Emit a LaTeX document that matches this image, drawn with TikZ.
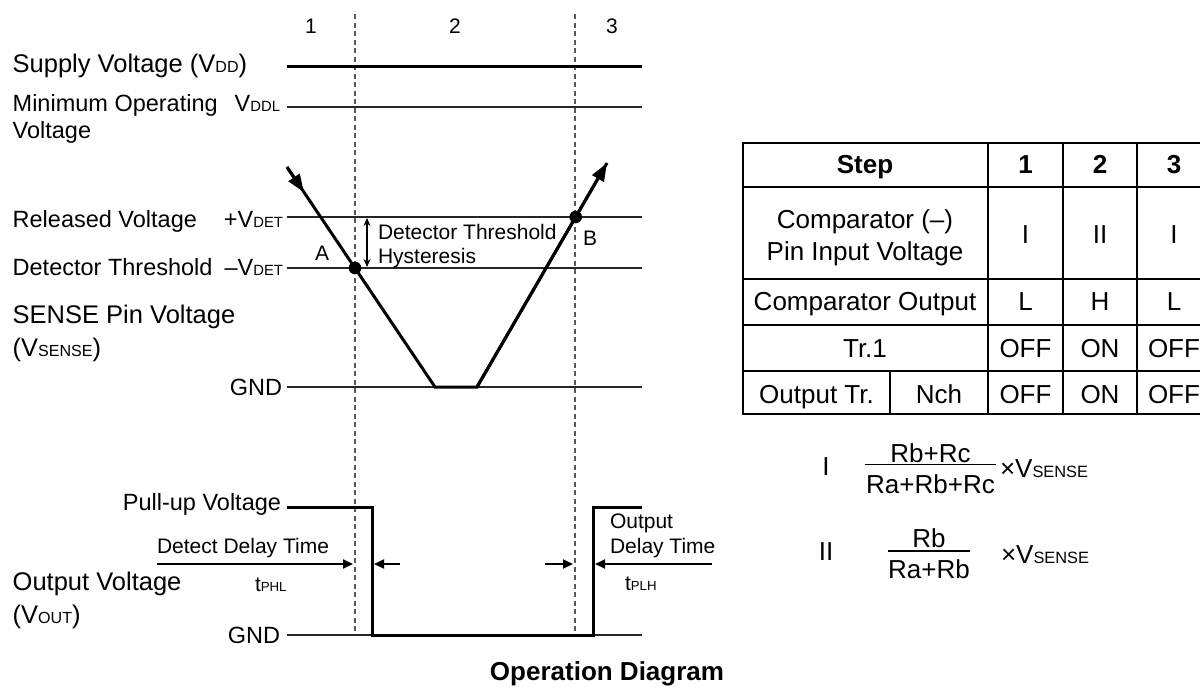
\documentclass[tikz,border=0pt]{standalone}
\usepackage{fontspec}
\setmainfont{Liberation Sans}
\usetikzlibrary{arrows.meta}
\makeatletter
\newcommand\sm[1]{{\fontsize{\fpeval{0.63*\f@size}}{1}\selectfont #1}}
\makeatother
\newcommand\fbig{\fontsize{25.5}{30}\selectfont}
\newcommand\fmed{\fontsize{23.5}{28}\selectfont}
\newcommand\fsml{\fontsize{21}{25}\selectfont}
\newcommand\ftbl{\fontsize{26}{30}\selectfont}
\begin{document}
\begin{tikzpicture}[x=1pt,y=-1pt,
  every node/.style={inner sep=0pt, outer sep=0pt},
  big/.style={font=\fbig},
  med/.style={font=\fmed},
  sml/.style={font=\fsml},
  tbl/.style={font=\ftbl},
  thinln/.style={line width=1.3pt, draw=black!85},
  wave/.style={line width=3pt},
  vdash/.style={line width=1.1pt, draw=black!65, dash pattern=on 5pt off 3.5pt},
  gridln/.style={line width=1.8pt},
  dly/.style={line width=2pt, -{Triangle[length=10pt,width=9pt]}},
  bigtip/.style={-{Triangle[length=18pt,width=13pt]}},
  hyst/.style={line width=1.4pt, {Stealth[length=8pt,width=7pt]}-{Stealth[length=8pt,width=7pt]}},
]
\fill[white] (0,0) rectangle (1200,686);
\useasboundingbox (0,0) rectangle (1200,686);

% step numbers
\node[sml] (n1) at (311,26) {1};
\node[sml] (n2) at (455,26) {2};
\node[sml] (n3) at (612,26) {3};

% dashed step borders
\coordinate (dAt) at (355,14);  \coordinate (dAb) at (355,634);
\coordinate (dBt) at (575,14);  \coordinate (dBb) at (575,634);
\draw[vdash] (dAt) -- (dAb);
\draw[vdash] (dBt) -- (dBb);

% supply voltage
\node[big, anchor=base west] (vddlbl) at (12.7,72) {Supply Voltage (V\sm{DD})};
\coordinate (vddL) at (287,66.7); \coordinate (vddR) at (642,66.7);
\draw[wave] (vddL) -- (vddR);

% minimum operating voltage
\node[med, anchor=base west] (minlbl) at (12.7,111) {Minimum Operating};
\node[med, anchor=base west] (minlbl2) at (12.7,138) {Voltage};
\node[med, anchor=base east] (vddl) at (280,111) {V\sm{DDL}};
\coordinate (vddlL) at (287,107); \coordinate (vddlR) at (642,107);
\draw[thinln] (vddlL) -- (vddlR);

% released / detector levels
\node[med, anchor=base west] (rellbl) at (12.7,227) {Released Voltage};
\node[med, anchor=base east] (pvdet) at (283,227) {+V\sm{DET}};
\coordinate (relL) at (287,217); \coordinate (relR) at (642,217);
\draw[thinln] (relL) -- (relR);

\node[med, anchor=base west] (detlbl) at (12.7,275) {Detector Threshold};
\node[med, anchor=base east] (mvdet) at (283,275) {–V\sm{DET}};
\coordinate (detL) at (287,268); \coordinate (detR) at (642,268);
\draw[thinln] (detL) -- (detR);

\node[big, anchor=base west] (senselbl) at (12.7,323) {SENSE Pin Voltage};
\node[big, anchor=base west] (senselbl2) at (12.7,356) {(V\sm{SENSE})};

\node[med, anchor=base east] (gnd1) at (282,395) {GND};
\coordinate (gndL) at (287,387); \coordinate (gndR) at (642,387);
\draw[thinln] (gndL) -- (gndR);

% sense waveform
\coordinate (s0) at (287,167);
\coordinate (sa) at (304,192.3);
\coordinate (s1) at (435,387);
\coordinate (s2) at (477,387);
\coordinate (s3) at (607,163);
\draw[wave] (s0) -- (s1) -- (s2) -- (s3);
\draw[wave, bigtip] (s0) -- (sa);
\draw[wave, bigtip] (s2) -- (s3);

\coordinate (pA) at (355,268);
\coordinate (pB) at (575.7,217);
\fill (pA) circle (6.3);
\fill (pB) circle (6.3);
\node[sml] (lA) at (322,253) {A};
\node[sml] (lB) at (590,238) {B};

% hysteresis
\coordinate (hT) at (367,218); \coordinate (hB) at (367,267);
\draw[hyst] (hT) -- (hB);
\node[sml, anchor=base west] (hy1) at (378,239) {Detector Threshold};
\node[sml, anchor=base west] (hy2) at (378,263) {Hysteresis};

% output voltage
\node[med, anchor=base east] (pullup) at (281,510) {Pull-up Voltage};
\node[big, anchor=base west] (outlbl) at (12.7,590) {Output Voltage};
\node[big, anchor=base west] (outlbl2) at (12.7,623) {(V\sm{OUT})};
\node[med, anchor=base east] (gnd2) at (280,643) {GND};
\coordinate (g2L) at (287,635); \coordinate (g2R) at (642,635);
\draw[thinln] (g2L) -- (g2R);

\coordinate (o0) at (287,507);
\coordinate (o1) at (372,507);
\coordinate (o2) at (372,635);
\coordinate (o3) at (593,635);
\coordinate (o4) at (593,507);
\coordinate (o5) at (642,507);
\draw[wave] (o0) -- (o1) -- (o2) -- (o3) -- (o4) -- (o5);

% delay times
\node[sml, anchor=base west] (ddt) at (157,553) {Detect Delay Time};
\node[sml, anchor=base west] (tphl) at (255,591) {t\sm{PHL}};
\coordinate (a1s) at (157,564); \coordinate (a1e) at (353,564);
\coordinate (a2s) at (400,564); \coordinate (a2e) at (374,564);
\coordinate (a3s) at (545,564); \coordinate (a3e) at (573,564);
\coordinate (a4s) at (712,564); \coordinate (a4e) at (595,564);
\draw[dly] (a1s) -- (a1e);
\draw[dly] (a2s) -- (a2e);
\draw[dly] (a3s) -- (a3e);
\draw[dly] (a4s) -- (a4e);
\node[sml, anchor=base west] (odt1) at (610,528) {Output};
\node[sml, anchor=base west] (odt2) at (610,553) {Delay Time};
\node[sml, anchor=base west] (tplh) at (625,590) {t\sm{PLH}};

% table
\draw[gridln] (743,143) rectangle (1211,414);
\foreach \yy in {187,279,325,371} \draw[gridln] (743,\yy) -- (1211,\yy);
\foreach \xx in {988,1063,1137} \draw[gridln] (\xx,143) -- (\xx,414);
\draw[gridln] (890,371) -- (890,414);

\node[tbl, anchor=base] (tstep) at (865,173) {\bfseries Step};
\node[tbl, anchor=base] (ts1) at (1025.5,173) {\bfseries 1};
\node[tbl, anchor=base] (ts2) at (1100,173) {\bfseries 2};
\node[tbl, anchor=base] (ts3) at (1174,173) {\bfseries 3};

\node[tbl, anchor=base] (tcmp1) at (865,228) {Comparator (–)};
\node[tbl, anchor=base] (tcmp2) at (865,260) {Pin Input Voltage};
\node[tbl, anchor=base] (tc1) at (1025.5,243) {I};
\node[tbl, anchor=base] (tc2) at (1100,243) {II};
\node[tbl, anchor=base] (tc3) at (1174,243) {I};

\node[tbl, anchor=base] (tco) at (865,310) {Comparator Output};
\node[tbl, anchor=base] (tco1) at (1025.5,310) {L};
\node[tbl, anchor=base] (tco2) at (1100,310) {H};
\node[tbl, anchor=base] (tco3) at (1174,310) {L};

\node[tbl, anchor=base] (ttr) at (865,357) {Tr.1};
\node[tbl, anchor=base] (ttr1) at (1025.5,357) {OFF};
\node[tbl, anchor=base] (ttr2) at (1100,357) {ON};
\node[tbl, anchor=base] (ttr3) at (1174,357) {OFF};

\node[tbl, anchor=base] (tot) at (816.5,403) {Output Tr.};
\node[tbl, anchor=base] (tnch) at (939,403) {Nch};
\node[tbl, anchor=base] (tot1) at (1025.5,403) {OFF};
\node[tbl, anchor=base] (tot2) at (1100,403) {ON};
\node[tbl, anchor=base] (tot3) at (1174,403) {OFF};

% formulas
\node[tbl, anchor=base] (fI) at (826,475) {I};
\node[tbl, anchor=base] (fIn) at (930.5,462) {Rb+Rc};
\node[tbl, anchor=base] (fId) at (930.5,493) {Ra+Rb+Rc};
\draw[line width=1.3pt] (865,464.5) -- (996,464.5);
\node[tbl, anchor=base west] (fIx) at (1000,477) {×V\sm{SENSE}};

\node[tbl, anchor=base] (fII) at (826,560) {II};
\node[tbl, anchor=base] (fIIn) at (929,547) {Rb};
\node[tbl, anchor=base] (fIId) at (929,578) {Ra+Rb};
\draw[line width=1.3pt] (888,551) -- (970,551);
\node[tbl, anchor=base west] (fIIx) at (1001,563) {×V\sm{SENSE}};

% title
\node[tbl, anchor=base] (title) at (607,680) {\bfseries Operation Diagram};
\end{tikzpicture}
\end{document}
